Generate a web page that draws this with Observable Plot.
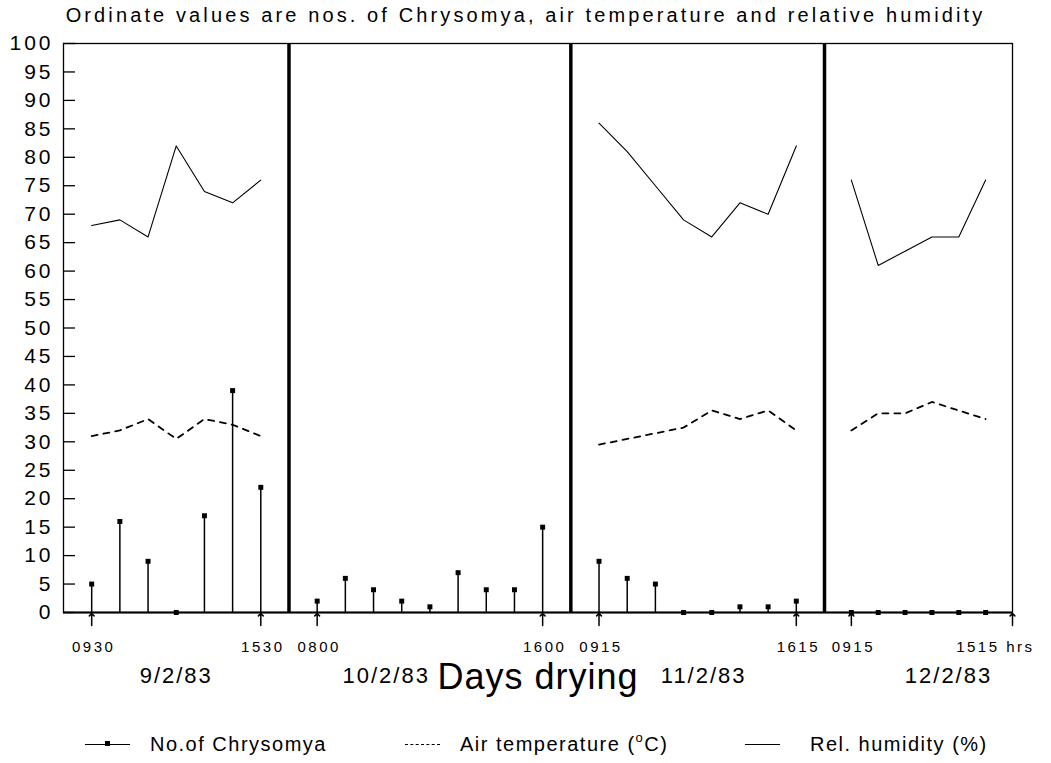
<!DOCTYPE html>
<html><head><meta charset="utf-8">
<script src="https://cdn.jsdelivr.net/npm/d3@7"></script>
<script src="https://cdn.jsdelivr.net/npm/@observablehq/plot@0.6"></script>
<style>
body{margin:0;background:#fff;font-family:"Liberation Sans",Arial,sans-serif;color:#000}
#wrap{position:relative;width:1051px;height:763px;overflow:hidden;background:#fff}
#title{position:absolute;left:0;top:4px;width:1051px;text-align:center;font-size:20px;line-height:22px;white-space:nowrap}
#chart{position:absolute;left:0;top:30px}
#legend{position:absolute;left:0;top:722px;width:1051px;height:41px;font-size:20px}
.lt{position:absolute;top:12px;line-height:20px;white-space:nowrap;letter-spacing:1.5px}
.sw{position:absolute;top:22px;height:0}
.sq{position:absolute;top:19px;width:5px;height:5px;background:#000}
sup{font-size:13px;vertical-align:9px;line-height:0}
</style></head>
<body><div id="wrap">
<div id="title">Ordinate values are nos. of Chrysomya, air temperature and relative humidity</div>
<div id="chart"></div>
<div id="legend">
  <div class="sw" style="left:85px;width:45px;border-top:1.5px solid #000"></div>
  <div class="sq" style="left:105px"></div>
  <div class="lt" style="left:150px">No.of Chrysomya</div>
  <div class="sw" style="left:405px;width:35px;border-top:1.5px dashed #000"></div>
  <div class="lt" style="left:460px">Air temperature (<sup>o</sup>C)</div>
  <div class="sw" style="left:745px;width:35px;border-top:1px solid #000"></div>
  <div class="lt" style="left:810px">Rel. humidity (%)</div>
</div>
</div>
<script>
// ---- data ----
const dayLabels = ["9/2/83", "10/2/83", "11/2/83", "12/2/83"];
const dayFirstSlot = [1, 9, 19, 28];          // hourly time index of first reading per day
const dividerSlots = [8, 18, 27];             // time index separating the days
const chrysomya = [
  [5, 16, 9, 0, 17, 39, 22],
  [2, 6, 4, 2, 1, 7, 4, 4, 15],
  [9, 6, 5, 0, 0, 1, 1, 2],
  [0, 0, 0, 0, 0, 0]
];
const airTemp = [
  [31, 32, 34, 30.5, 34, 33, 31],
  [],
  [29.5, 30.5, 31.5, 32.5, 35.5, 34, 35.5, 32],
  [32, 35, 35, 37, 35.5, 34]
];
const relHumidity = [
  [68, 69, 66, 82, 74, 72, 76],
  [],
  [86, 81, 75, 69, 66, 72, 70, 82],
  [76, 61, 63.5, 66, 66, 76]
];
const timeTickSlots = [1, 7, 9, 17, 19, 26, 28, 34];
const timeTickLabels = ["0930", "1530", "0800", "1600", "0915", "1615", "0915", "1515 hrs"];
const yTicks = [0, 5, 10, 15, 20, 25, 30, 35, 40, 45, 50, 55, 60, 65, 70, 75, 80, 85, 90, 95, 100];

// ---- tables ----
const toRows = (series) => series.flatMap((vals, d) => vals.map((v, i) => ({day: d, slot: dayFirstSlot[d] + i, value: v})));
const chrysRows = toRows(chrysomya);
const tempRows = toRows(airTemp);
const humRows = toRows(relHumidity);
const timeRows = timeTickSlots.map((s, i) => ({slot: s, label: timeTickLabels[i]}));
const dayRows = dayLabels.map((lab, d) => ({label: lab, mid: dayFirstSlot[d] + (chrysomya[d].length - 1) / 2}));

const FONT = "Liberation Sans, Arial, sans-serif";
const chart = Plot.plot({
  width: 1051, height: 690,
  marginLeft: 63, marginRight: 39, marginTop: 13, marginBottom: 108,
  x: {type: "linear", domain: [0, 27, 34], range: [63, 824, 1012], axis: null},
  y: {domain: [0, 100]},
  style: {fontFamily: FONT, color: "black", background: "white", overflow: "visible"},
  marks: [
    Plot.frame({stroke: "black", strokeWidth: 1.3}),
    Plot.ruleX(dividerSlots, {x: d => d, stroke: "black", strokeWidth: 3.5}),
    Plot.ruleY([0], {y: d => d, stroke: "black", strokeWidth: 2}),
    Plot.ruleY(yTicks, {y: d => d, x1: 0, x2: 0, insetRight: -12, stroke: "black", strokeWidth: 1.3}),
    Plot.axisY({ticks: yTicks, tickSize: 0, tickPadding: 10, fontSize: 21, label: null}),
    // humidity
    Plot.line(humRows, {x: "slot", y: "value", z: "day", stroke: "black", strokeWidth: 1.1}),
    // temperature
    Plot.line(tempRows, {x: "slot", y: "value", z: "day", stroke: "black", strokeWidth: 1.8, strokeDasharray: "6,6"}),
    // chrysomya
    Plot.ruleX(chrysRows, {x: "slot", y1: 0, y2: "value", stroke: "black", strokeWidth: 1.5}),
    Plot.dot(chrysRows, {x: "slot", y: "value", symbol: "square", r: 2.8, fill: "black", stroke: "none"}),
    // time arrows
    Plot.vector(timeRows, {x: "slot", y: 0, length: 12, rotate: 0, anchor: "start", dy: 13, stroke: "black", strokeWidth: 1.5}),
    // time labels
    Plot.text(timeRows.slice(0, -1), {x: "slot", y: 0, text: "label", dy: 35, dx: 2, fontSize: 15, textAnchor: "middle"}),
    Plot.text(timeRows.slice(-1), {x: "slot", y: 0, text: "label", dy: 35, dx: 22, fontSize: 15, textAnchor: "end"}),
    // day labels
    Plot.text(dayRows.slice(0, 1), {x: "mid", y: 0, text: "label", dy: 63, fontSize: 22}),
    Plot.text(dayRows.slice(1, 2), {x: "mid", y: 0, text: "label", dy: 63, fontSize: 22, textAnchor: "end"}),
    Plot.text(dayRows.slice(2, 3), {x: "mid", y: 0, text: "label", dy: 63, dx: 6, fontSize: 22}),
    Plot.text(dayRows.slice(3, 4), {x: "mid", y: 0, text: "label", dy: 63, dx: 30, fontSize: 22}),
    Plot.text(["Days drying"], {frameAnchor: "bottom", dy: 76, fontSize: 36})
  ]
});
document.getElementById("chart").appendChild(chart);

// letter spacing to mimic the wide plotter lettering
chart.querySelectorAll('g[aria-label="y-axis tick label"]').forEach(g => g.setAttribute("letter-spacing", "3"));
const tg = chart.querySelectorAll('g[aria-label="text"]');
const ls = [2.5, 2.5, 2, 2, 2, 2, 1];
tg.forEach((g, i) => g.setAttribute("letter-spacing", String(ls[i] ?? 0)));

// title letter spacing to span the plot width
const title = document.getElementById("title");
const cv = document.createElement("canvas").getContext("2d");
cv.font = "20px 'Liberation Sans'";
const t = title.textContent;
const w = cv.measureText(t).width;
title.style.letterSpacing = ((920 - w) / t.length).toFixed(2) + "px";
title.style.left = "0px";
</script>
</body></html>
